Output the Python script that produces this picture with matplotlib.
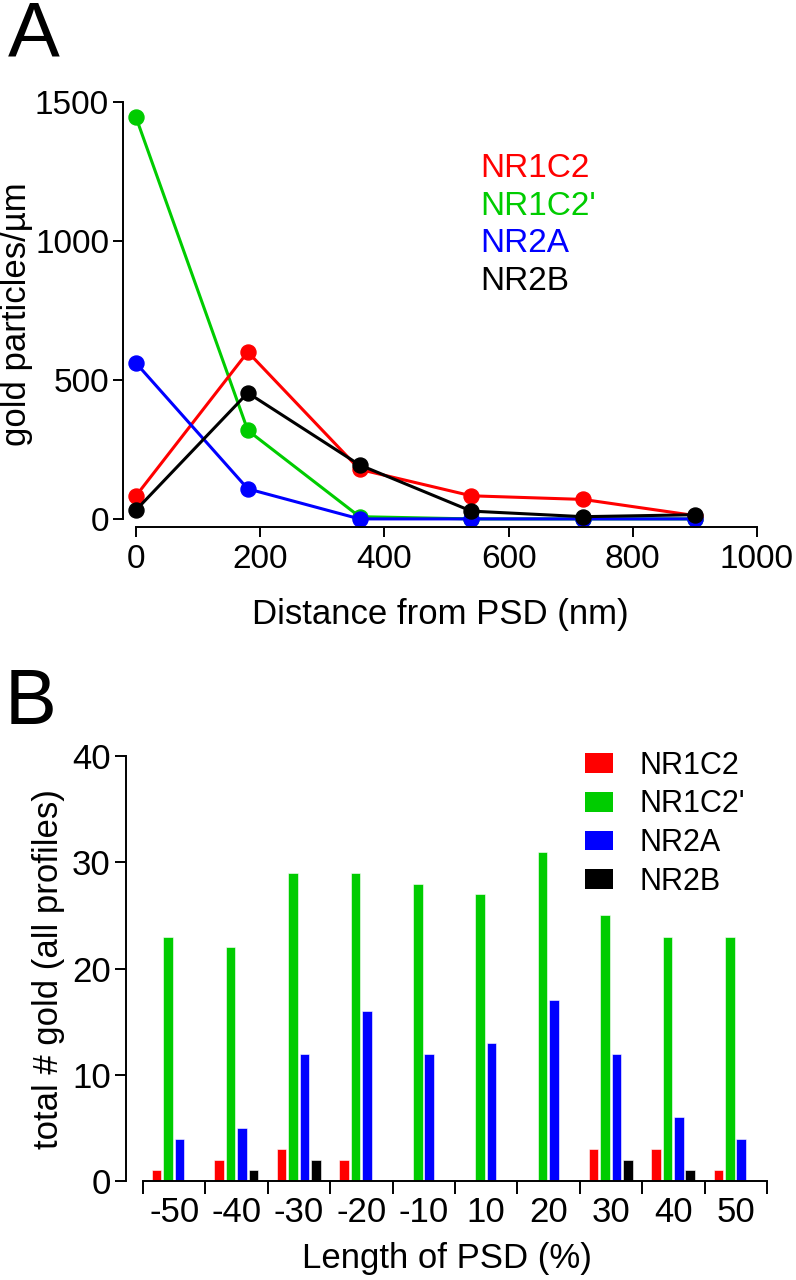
import matplotlib
matplotlib.use('Agg')
import matplotlib.pyplot as plt
from matplotlib.patches import Patch
import numpy as np

plt.rcParams['font.family'] = ['Liberation Sans', 'DejaVu Sans']

# Panel A: density vs distance from PSD
distance = [0, 180, 360, 540, 720, 900]
nr1c2_a = [83, 600, 178, 83, 70, 12]
nr1c2p_a = [1443, 318, 8, 0, 0, 0]
nr2a_a = [560, 108, 0, 0, 0, 0]
nr2b_a = [32, 453, 194, 28, 8, 15]

# Panel B: counts along the PSD length
psd_bins = ['-50', '-40', '-30', '-20', '-10', '10', '20', '30', '40', '50']
nr1c2_b = [1, 2, 3, 2, 0, 0, 0, 3, 3, 1]
nr1c2p_b = [23, 22, 29, 29, 28, 27, 31, 25, 23, 23]
nr2a_b = [4, 5, 12, 16, 12, 13, 17, 12, 6, 4]
nr2b_b = [0, 1, 2, 0, 0, 0, 0, 2, 1, 0]

names = ['NR1C2', "NR1C2'", 'NR2A', 'NR2B']
colores = ['#ff0000', '#00cc00', '#0000ff', '#000000']

fig = plt.figure(figsize=(7.96, 12.8), dpi=100)

# ---- Panel A ----
ax1 = fig.add_axes([0.1545, 0.5883, 0.7965, 0.3324])
series_a = [nr1c2_a, nr1c2p_a, nr2a_a, nr2b_a]
# orden de dibujo: verde, rojo, azul, negro encima
for idx in [1, 0, 2, 3]:
    ax1.plot(distance, series_a[idx], '-o', color=colores[idx], lw=2.2,
             markersize=10.8, clip_on=False)
ax1.set_xlim(-21, 1000)
ax1.set_ylim(-29, 1500)
ax1.spines['left'].set_bounds(0, 1500)
ax1.spines['bottom'].set_bounds(0, 1000)
ax1.spines['top'].set_visible(False)
ax1.spines['right'].set_visible(False)
for s in ['left', 'bottom']:
    ax1.spines[s].set_linewidth(1.4)
ax1.set_xticks([0, 200, 400, 600, 800, 1000])
ax1.set_yticks([0, 500, 1000, 1500])
ax1.tick_params(axis='y', labelsize=24, width=1.4, length=7, pad=3)
ax1.tick_params(axis='x', labelsize=24, width=1.4, length=7, pad=5)
ax1.set_xlabel('Distance from PSD (nm)', fontsize=25, labelpad=17)
ax1.set_ylabel('gold particles/µm', fontsize=25)
ax1.yaxis.set_label_coords(-0.142, 0.5)
for k, nm in enumerate(names):
    ax1.text(0.563, 0.8228 - k * 0.0885, nm, color=colores[k], fontsize=24,
             transform=ax1.transAxes, va='baseline', ha='left')
fig.text(0.010, 0.9555, 'A', fontsize=56, va='baseline', ha='left')

# ---- Panel B ----
ax2 = fig.add_axes([0.1583, 0.0773, 0.8053, 0.332])
x = np.arange(len(psd_bins))
series_b = [nr1c2_b, nr1c2p_b, nr2a_b, nr2b_b]
ancho = 0.152
for k in range(4):
    ax2.bar(x + (k - 1.5) * 0.183 - 0.005, series_b[k], width=ancho,
            color=colores[k], edgecolor='white', linewidth=0.4, label=names[k])
ax2.set_xlim(-0.772, 9.5)
ax2.set_ylim(0, 40)
ax2.spines['bottom'].set_bounds(-0.5, 9.5)
ax2.spines['top'].set_visible(False)
ax2.spines['right'].set_visible(False)
for s in ['left', 'bottom']:
    ax2.spines[s].set_linewidth(1.4)
ax2.set_yticks([0, 10, 20, 30, 40])
ax2.set_xticks(np.arange(-0.5, 10, 1.0))
ax2.set_xticklabels([])
ax2.set_xticks(x, minor=True)
ax2.set_xticklabels(psd_bins, minor=True)
ax2.tick_params(axis='x', which='major', width=1.4, length=9)
ax2.tick_params(axis='x', which='minor', length=0, labelsize=25, pad=11)
ax2.tick_params(axis='y', labelsize=25, width=1.4, length=8, pad=3)
ax2.set_xlabel('Length of PSD (%)', fontsize=25, labelpad=9)
ax2.set_ylabel('total # gold (all profiles)', fontsize=25)
ax2.yaxis.set_label_coords(-0.095, 0.5)
handles = [Patch(facecolor=c) for c in colores]
ax2.legend(handles, names, loc='upper left', bbox_to_anchor=(0.716, 1.013),
           frameon=False, fontsize=22, handlelength=0.915, handleheight=0.62,
           handletextpad=0.87, labelspacing=0.29, borderpad=0,
           borderaxespad=0)
fig.text(0.0057, 0.4344, 'B', fontsize=56, va='baseline', ha='left')

fig.savefig('out.png', dpi=100)
plt.close(fig)
